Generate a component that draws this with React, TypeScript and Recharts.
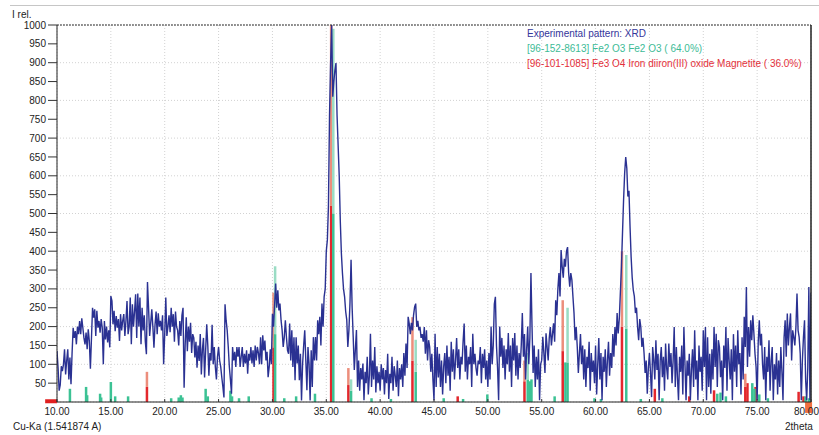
import React from 'react';
import { ComposedChart, Line, Bar, XAxis, YAxis, CartesianGrid, ReferenceLine, ReferenceArea } from 'recharts';

// scan: 10.00 .. 80.00 2theta, 0.1 deg step
const scanStart = 10;
const scanStep = 0.1;

// experimental pattern, one row per degree (10 points a row)
const xrdCounts: number[][] = [
  [135, 90, 30, 45, 95, 82, 100, 140, 73, 110],
  [140, 60, 118, 47, 130, 197, 170, 188, 153, 200],
  [180, 215, 180, 222, 197, 170, 153, 184, 140, 193],
  [162, 88, 170, 250, 224, 246, 175, 242, 197, 215],
  [184, 220, 197, 100, 215, 166, 200, 158, 190, 145],
  [281, 268, 206, 242, 188, 228, 197, 220, 162, 233],
  [190, 215, 233, 175, 215, 268, 180, 200, 277, 153],
  [259, 200, 240, 286, 170, 288, 200, 277, 153, 250],
  [190, 230, 160, 127, 318, 250, 175, 210, 246, 200],
  [144, 205, 240, 180, 235, 200, 215, 190, 230, 100],
  [180, 277, 175, 200, 230, 185, 250, 200, 233, 160],
  [240, 200, 190, 150, 215, 175, 230, 250, 38, 153],
  [225, 135, 200, 160, 210, 130, 180, 170, 118, 160],
  [91, 150, 109, 180, 73, 140, 170, 65, 137, 206],
  [150, 70, 130, 110, 205, 100, 146, 93, 60, 120],
  [146, 110, 93, 65, 40, 12, 259, 217, 190, 146],
  [93, 60, 22, 146, 110, 133, 93, 146, 120, 146],
  [93, 120, 146, 93, 128, 102, 137, 75, 128, 110],
  [146, 102, 137, 93, 150, 110, 146, 130, 100, 172],
  [100, 177, 137, 163, 110, 133, 66, 93, 140, 100],
  [234, 200, 256, 314, 250, 296, 243, 261, 217, 190],
  [146, 172, 217, 172, 137, 128, 208, 110, 190, 93],
  [172, 58, 172, 102, 150, 58, 128, 4, 100, 150],
  [190, 110, 31, 146, 102, 4, 137, 40, 172, 110],
  [172, 110, 217, 180, 226, 150, 261, 200, 279, 300],
  [400, 430, 520, 760, 900, 1000, 810, 850, 880, 899],
  [760, 680, 600, 480, 395, 342, 300, 279, 240, 218],
  [146, 190, 263, 377, 250, 172, 85, 140, 191, 40],
  [110, 30, 90, 60, 102, 5, 80, 50, 120, 20],
  [70, 181, 40, 110, 60, 146, 25, 95, 50, 80],
  [30, 100, 60, 90, 20, 85, 50, 128, 8, 75],
  [50, 120, 30, 95, 70, 40, 110, 15, 90, 60],
  [100, 40, 130, 70, 155, 90, 226, 208, 180, 210],
  [190, 230, 252, 261, 199, 215, 190, 199, 170, 180],
  [160, 199, 128, 190, 110, 164, 146, 80, 128, 60],
  [5, 181, 40, 146, 65, 128, 40, 110, 20, 95],
  [130, 50, 150, 70, 120, 30, 160, 80, 140, 60],
  [110, 170, 90, 140, 60, 120, 100, 160, 208, 80],
  [150, 60, 120, 100, 146, 40, 181, 100, 128, 90],
  [70, 110, 100, 146, 50, 128, 90, 140, 60, 110],
  [40, 130, 60, 200, 100, 150, 260, 279, 150, 90],
  [5, 200, 120, 170, 90, 150, 60, 140, 100, 183],
  [80, 150, 40, 170, 110, 183, 70, 150, 60, 130],
  [90, 150, 236, 120, 180, 60, 140, 200, 100, 170],
  [342, 200, 77, 150, 40, 120, 60, 140, 5, 100],
  [111, 173, 130, 77, 182, 146, 110, 170, 199, 150],
  [180, 209, 160, 270, 230, 300, 342, 280, 403, 359],
  [330, 380, 359, 400, 411, 342, 306, 342, 324, 279],
  [235, 164, 199, 146, 77, 130, 180, 100, 150, 60],
  [140, 40, 120, 90, 160, 30, 130, 80, 110, 50],
  [150, 20, 100, 170, 60, 130, 5, 120, 80, 140],
  [40, 110, 160, 70, 130, 90, 180, 120, 199, 150],
  [236, 182, 220, 289, 358, 448, 536, 607, 650, 620],
  [545, 560, 465, 385, 330, 297, 280, 236, 250, 199],
  [164, 220, 199, 146, 170, 130, 77, 110, 22, 90],
  [130, 77, 13, 146, 111, 60, 164, 85, 128, 5],
  [110, 146, 66, 120, 30, 155, 90, 60, 155, 93],
  [130, 50, 110, 199, 40, 146, 66, 5, 120, 80],
  [150, 20, 199, 100, 5, 110, 70, 128, 5, 85],
  [140, 40, 190, 60, 110, 5, 150, 80, 120, 30],
  [190, 93, 199, 5, 172, 40, 128, 22, 140, 60],
  [199, 93, 181, 40, 164, 146, 66, 110, 5, 150],
  [90, 199, 30, 170, 110, 60, 140, 5, 180, 80],
  [150, 40, 190, 100, 130, 20, 172, 60, 226, 146],
  [305, 93, 199, 120, 217, 164, 230, 181, 128, 93],
  [5, 160, 217, 150, 181, 100, 60, 146, 5, 120],
  [80, 164, 30, 110, 146, 5, 100, 60, 130, 20],
  [110, 40, 146, 80, 5, 172, 217, 120, 235, 150],
  [200, 235, 110, 190, 172, 150, 199, 288, 190, 172],
  [128, 5, 110, 172, 217, 60, 5, 90, 305, 5],
  [290],
];

// [96-152-8613] Fe2 O3 sticks
const fe2o3Pos = [11.2, 12.7, 12.8, 14.0, 14.1, 15.0, 15.4, 16.6, 20.6, 21.3, 21.5, 21.65, 23.8, 24.0, 26.1, 26.25, 26.9, 27.8, 30.25, 31.1, 32.2, 33.95, 35.65, 37.3, 39.2, 41.0, 43.3, 45.9, 47.7, 49.95, 53.7, 53.9, 54.05, 56.2, 57.2, 57.4, 59.9, 60.5, 62.85, 64.2, 66.2, 71.3, 71.6, 72.1, 74.55, 74.75, 75.2, 76.0, 79.5, 79.8];
const fe2o3Int = [35, 40, 18, 22, 12, 53, 15, 15, 10, 12, 18, 12, 35, 15, 30, 15, 10, 15, 360, 10, 15, 22, 990, 60, 10, 8, 165, 10, 8, 20, 130, 55, 60, 15, 105, 250, 10, 8, 390, 8, 10, 22, 25, 15, 50, 35, 20, 10, 15, 10];
const fe2o3Solid = [35, 40, 18, 22, 12, 53, 15, 15, 10, 12, 18, 12, 35, 15, 30, 15, 10, 15, 180, 10, 15, 22, 500, 30, 10, 8, 80, 10, 8, 20, 60, 55, 60, 15, 105, 105, 10, 8, 195, 8, 10, 22, 25, 15, 50, 35, 20, 10, 15, 10];

// [96-101-1085] Fe3 O4 sticks
const fe3o4Pos = [18.35, 30.1, 35.45, 37.05, 43.0, 47.2, 53.4, 56.95, 62.45, 65.5, 68.7, 71.0, 73.9, 74.1, 74.85, 78.85, 79.3];
const fe3o4Int = [80, 290, 1000, 90, 225, 15, 110, 270, 400, 35, 15, 31, 75, 50, 40, 27, 15];
const fe3o4Solid = [40, 145, 520, 45, 110, 15, 55, 135, 200, 35, 15, 31, 40, 50, 40, 27, 15];

const xTicks = [10, 15, 20, 25, 30, 35, 40, 45, 50, 55, 60, 65, 70, 75, 80];
const yTicks = [50, 100, 150, 200, 250, 300, 350, 400, 450, 500, 550, 600, 650, 700, 750, 800, 850, 900, 950, 1000];

const legendItems = [
  { text: 'Experimental pattern: XRD', color: '#34359a' },
  { text: '[96-152-8613] Fe2 O3 Fe2 O3 ( 64.0%)', color: '#3dbb96' },
  { text: '[96-101-1085] Fe3 O4 Iron diiron(III) oxide Magnetite ( 36.0%)', color: '#e3303a' },
];

const rowKey = (v: number) => Math.round(v * 100);
const rows = new Map<number, any>();
xrdCounts.flat().forEach((v, i) => {
  const x = Math.round((scanStart + i * scanStep) * 100) / 100;
  rows.set(rowKey(x), { x, xrd: v });
});
const addSticks = (pos: number[], full: number[], solid: number[], sKey: string, lKey: string) => {
  pos.forEach((p, i) => {
    const k = rowKey(p);
    const row = rows.get(k) ?? { x: p };
    row[sKey] = solid[i];
    row[lKey] = full[i] - solid[i];
    rows.set(k, row);
  });
};
addSticks(fe3o4Pos, fe3o4Int, fe3o4Solid, 'magS', 'magL');
addSticks(fe2o3Pos, fe2o3Int, fe2o3Solid, 'hemS', 'hemL');
const data = [...rows.values()].sort((a, b) => a.x - b.x);

// a stick of fixed width centred on its angle
const stick = (fill: string) => (p: any) => {
  const { x, y, width, height } = p;
  if (!height || !isFinite(height)) return <g />;
  return <rect x={x + width / 2 - 1.25} y={y} width={2.5} height={height} fill={fill} />;
};

const XTick = ({ x, y, payload }: any) => {
  const last = payload.value === 80;
  return (
    <g>
      <line x1={x} x2={x} y1={y - 9} y2={y - 6} stroke="#333" />
      <text x={last ? x + 8 : x} y={y} dy="0.71em" textAnchor={last ? 'end' : 'middle'} fontSize={10} fill="#222">
        {Number(payload.value).toFixed(2)}
      </text>
    </g>
  );
};

const txt: React.CSSProperties = { position: 'absolute', fontSize: 10, lineHeight: '12px', whiteSpace: 'nowrap', zIndex: 2 };

export default function App() {
  return (
    <div style={{ position: 'absolute', left: 0, top: 0, width: 819, height: 435, background: '#fff', fontFamily: '"Liberation Sans", Arial, sans-serif', overflow: 'hidden' }}>
      <div style={{ position: 'absolute', left: 10, top: 5, width: 809, height: 1, background: '#c6c6c6' }} />
      <div style={{ ...txt, left: 12, top: 9, color: '#222' }}>I rel.</div>
      {legendItems.map((l, i) => (
        <div key={i} style={{ ...txt, left: 527, top: 28 + i * 15, color: l.color }}>{l.text}</div>
      ))}
      <div style={{ ...txt, left: 13, top: 421, color: '#222' }}>Cu-Ka (1.541874 A)</div>
      <div style={{ ...txt, left: 785, top: 421, color: '#222' }}>2theta</div>

      <ComposedChart width={819} height={435} data={data} margin={{ top: 25, right: 8, bottom: 0, left: 0 }}>
        <CartesianGrid stroke="#d2d2d2" strokeDasharray="1 2" />
        <XAxis
          dataKey="x"
          type="number"
          domain={[10, 80]}
          ticks={xTicks}
          allowDataOverflow
          height={33}
          tickSize={6}
          tickMargin={0}
          tickLine={false}
          tick={<XTick />}
          axisLine={{ stroke: '#222' }}
        />
        <YAxis
          type="number"
          domain={[0, 1000]}
          ticks={yTicks}
          allowDataOverflow
          width={57}
          tickSize={9}
          tickMargin={2}
          tickLine={{ stroke: '#333' }}
          axisLine={{ stroke: '#222' }}
          tick={{ fontSize: 10, fill: '#222' }}
        />
        <Line
          dataKey="xrd"
          type="linear"
          stroke="#2a3192"
          strokeWidth={1.4}
          dot={false}
          activeDot={false}
          connectNulls
          isAnimationActive={false}
        />
        <Bar dataKey="magS" stackId="ph" fill="#e3282d" shape={stick('#e3282d')} isAnimationActive={false} />
        <Bar dataKey="magL" stackId="ph" fill="#ec8e7c" shape={stick('#ec8e7c')} isAnimationActive={false} />
        <Bar dataKey="hemS" stackId="ph" fill="#3cc294" shape={stick('#3cc294')} isAnimationActive={false} />
        <Bar dataKey="hemL" stackId="ph" fill="#9adcc4" shape={stick('#9adcc4')} isAnimationActive={false} />
        <ReferenceLine y={1000} stroke="#333" strokeDasharray="2 1" />
        <ReferenceLine x={80} stroke="#222" strokeWidth={1.5} />
        <ReferenceArea x1={8.9} x2={10} y1={-3} y2={7} ifOverflow="visible" fill="#e02020" fillOpacity={1} stroke="none" />
        <ReferenceArea x1={79.45} x2={80.1} y1={-29} y2={0} ifOverflow="visible" fill="#f07040" fillOpacity={1} stroke="none" />
      </ComposedChart>
    </div>
  );
}
